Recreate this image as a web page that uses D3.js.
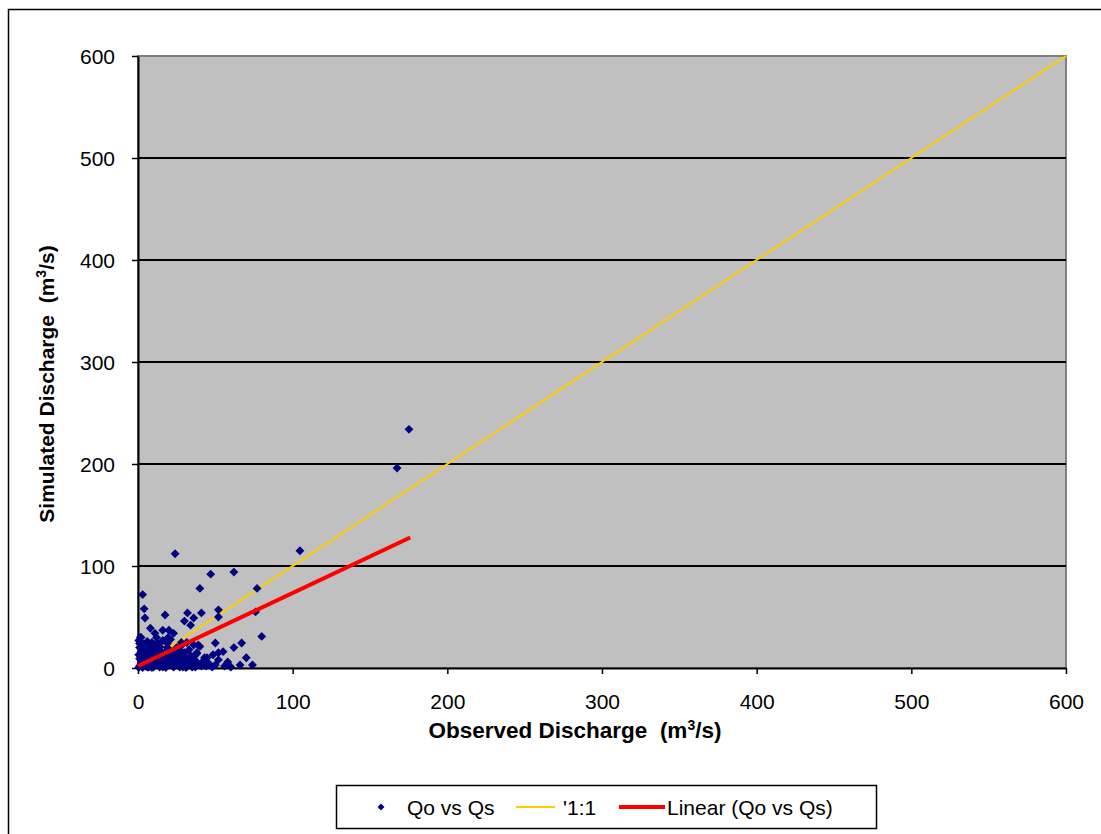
<!DOCTYPE html>
<html>
<head>
<meta charset="utf-8">
<script src="https://cdn.jsdelivr.net/npm/d3@7"></script>
<style>
  body { margin: 0; background: #fff; }
  svg { display: block; font-family: "Liberation Sans", Arial, sans-serif; }
  text { white-space: pre; }
</style>
</head>
<body>
<div id="chart"></div>
<script>
// observed vs simulated discharge (m3/s)
const observed = [
  175.2, 167.5, 104.7, 24, 47, 62, 77, 40, 3, 4, 4.5, 17.5, 32, 41, 52, 52, 76, 30, 36, 34,
  8, 16, 20, 23, 11, 1.5, 19.5, 80, 31.5, 36, 40, 50, 52, 55, 62, 67, 48.5, 38, 43, 44.6,
  52, 70, 43, 50, 66, 74, 46.5, 41, 39, 38, 28,
  1, 2, 1, 3, 2, 1, 4, 5, 6, 4, 5, 3, 7, 8, 9, 8, 7, 10, 11, 12,
  11, 10, 13, 14, 15, 14, 16, 17, 18, 17, 19, 20, 21, 22, 20, 23, 24, 25, 24, 26,
  27, 28, 27, 29, 30, 31, 30, 32, 33, 34, 35, 36, 37, 38, 39, 41, 42, 44, 46, 48,
  56, 58, 60, 25, 28, 33, 0.5, 2, 6, 9, 13, 16, 19, 21, 12, 0.5, 3, 6, 9, 2,
  14, 18, 23, 27, 31, 35, 5, 10, 0.5, 1,
  2.5, 5.5, 8.5, 11.5, 14.5, 17.5, 20.5, 23.5, 26.5, 29.5, 32.5, 35.5, 3.5, 6.5, 9.5, 12.5,
  15.5, 18.5, 21.5, 24.5, 1.5, 4.5, 7.5, 10.5, 13.5, 16.5, 19.5, 2, 5, 8, 11, 14
];
const simulated = [
  234, 196, 115, 112, 92, 94, 78, 78, 72, 58, 49, 52, 54, 54, 57, 50, 55, 46, 49, 42,
  39, 37, 37, 34, 34, 30, 30, 31, 25, 22.5, 21, 24.5, 15, 16, 20, 24.5, 13, 14, 10, 10,
  8, 10, 5, 3, 3, 3, 3, 5, 22.5, 15, 25,
  2, 5, 9, 12, 16, 20, 3, 7, 11, 15, 19, 24, 1, 5, 9, 14, 18, 2, 7, 12,
  17, 22, 3, 8, 13, 18, 1, 5, 10, 15, 20, 3, 8, 13, 17, 1, 6, 11, 16, 3,
  8, 13, 18, 1, 5, 10, 15, 2, 7, 12, 4, 9, 1, 6, 3, 2, 6, 2, 4, 1,
  2, 6, 1, 20, 22, 18, 27, 30, 26, 25, 24, 27, 24, 28, 30, 0.5, 0.5, 1, 0.5, 4,
  1, 0.5, 2, 1, 0.5, 1, 2, 1, 13, 24,
  3, 4, 2, 6, 3, 7, 4, 2, 5, 3, 6, 2, 9, 11, 6, 5,
  9, 11, 6, 9, 13, 17, 15, 17, 11, 12, 13, 22, 24, 21, 23, 21
];

// fitted trendline end points and the 1:1 line
const trendX = [0, 176];
const trendY = [2, 128];
const oneToOne = [0, 600];

const xTicks = [0, 100, 200, 300, 400, 500, 600];
const yTicks = [0, 100, 200, 300, 400, 500, 600];
const legendLabels = ["Qo vs Qs", "'1:1", "Linear (Qo vs Qs)"];

const W = 1101, H = 834;
const margin = {top: 56, left: 138};
const plotW = 928, plotH = 612;

const svg = d3.select("#chart").append("svg")
    .attr("width", W)
    .attr("height", H);

// outer chart border (runs off the right and bottom of the picture)
svg.append("rect")
    .attr("x", 8.5).attr("y", 9.5)
    .attr("width", 1110).attr("height", 840)
    .attr("fill", "none")
    .attr("stroke", "#000")
    .attr("stroke-width", 1.5);

const g = svg.append("g")
    .attr("transform", "translate(" + margin.left + "," + margin.top + ")");

const x = d3.scaleLinear().domain([0, 600]).range([0, plotW]);
const y = d3.scaleLinear().domain([0, 600]).range([plotH, 0]);

// plot area
g.append("rect")
    .attr("width", plotW).attr("height", plotH)
    .attr("fill", "#c0c0c0")
    .attr("stroke", "#808080")
    .attr("stroke-width", 2);

// gridlines
g.selectAll(".grid")
    .data(yTicks.filter(d => d > 0 && d < 600))
    .enter().append("line")
    .attr("class", "grid")
    .attr("x1", 0).attr("x2", plotW)
    .attr("y1", d => y(d)).attr("y2", d => y(d))
    .attr("stroke", "#000")
    .attr("stroke-width", 2);

// axes
const xAxis = d3.axisBottom(x).tickValues(xTicks).tickSize(6).tickPadding(20).tickSizeOuter(0);
const yAxis = d3.axisLeft(y).tickValues(yTicks).tickSize(6).tickPadding(17).tickSizeOuter(0);

const gx = g.append("g")
    .attr("transform", "translate(0," + plotH + ")")
    .call(xAxis);
const gy = g.append("g").call(yAxis);

[gx, gy].forEach(a => {
    a.select(".domain").attr("stroke", "#000").attr("stroke-width", 2);
    a.selectAll(".tick line").attr("stroke", "#000").attr("stroke-width", 1.5);
    a.selectAll(".tick text")
        .attr("fill", "#000")
        .style("font-size", "21px")
        .style("font-family", "'Liberation Sans', Arial, sans-serif");
});
gy.selectAll(".tick text").attr("dy", "0.35em");

// 1:1 line
g.append("line")
    .attr("x1", x(oneToOne[0])).attr("y1", y(oneToOne[0]))
    .attr("x2", x(oneToOne[1])).attr("y2", y(oneToOne[1]))
    .attr("stroke", "#ffcc00")
    .attr("stroke-width", 2);

// scatter points (diamonds)
const pts = observed.map((d, i) => ({qo: d, qs: simulated[i]}));
const diamond = d3.symbol().type(d3.symbolDiamond2).size(50);
g.selectAll(".pt")
    .data(pts)
    .enter().append("path")
    .attr("class", "pt")
    .attr("d", diamond)
    .attr("transform", d => "translate(" + x(d.qo) + "," + y(d.qs) + ")")
    .attr("fill", "#000080");

// linear trendline
g.append("line")
    .attr("x1", x(trendX[0])).attr("y1", y(trendY[0]))
    .attr("x2", x(trendX[1])).attr("y2", y(trendY[1]))
    .attr("stroke", "#ff0000")
    .attr("stroke-width", 4);

// axis titles
const xTitle = svg.append("text")
    .attr("x", 575)
    .attr("y", 738)
    .attr("text-anchor", "middle")
    .style("font-size", "22.5px")
    .style("font-weight", "bold");
xTitle.append("tspan").text("Observed Discharge  (m");
xTitle.append("tspan").attr("dy", -8).style("font-size", "14px").text("3");
xTitle.append("tspan").attr("dy", 8).text("/s)");

const yTitle = svg.append("text")
    .attr("transform", "translate(54,384) rotate(-90)")
    .attr("text-anchor", "middle")
    .style("font-size", "21px")
    .style("font-weight", "bold");
yTitle.append("tspan").text("Simulated Discharge  (m");
yTitle.append("tspan").attr("dy", -8).style("font-size", "14px").text("3");
yTitle.append("tspan").attr("dy", 8).text("/s)");

// legend
const lg = svg.append("g").attr("transform", "translate(336,785)");
lg.append("rect")
    .attr("x", 0.5).attr("y", 0.5)
    .attr("width", 540).attr("height", 43)
    .attr("fill", "#fff")
    .attr("stroke", "#000")
    .attr("stroke-width", 1.5);

lg.append("path")
    .attr("d", d3.symbol().type(d3.symbolDiamond2).size(30))
    .attr("transform", "translate(45,22)")
    .attr("fill", "#000080");
lg.append("text").attr("x", 71).attr("y", 30).style("font-size", "21px").text(legendLabels[0]);

lg.append("line")
    .attr("x1", 180).attr("x2", 219).attr("y1", 22).attr("y2", 22)
    .attr("stroke", "#ffcc00").attr("stroke-width", 2);
lg.append("text").attr("x", 227).attr("y", 30).style("font-size", "21px").text(legendLabels[1]);

lg.append("line")
    .attr("x1", 283).attr("x2", 329).attr("y1", 22).attr("y2", 22)
    .attr("stroke", "#ff0000").attr("stroke-width", 4);
lg.append("text").attr("x", 331).attr("y", 30).style("font-size", "21px").text(legendLabels[2]);
</script>
</body>
</html>
